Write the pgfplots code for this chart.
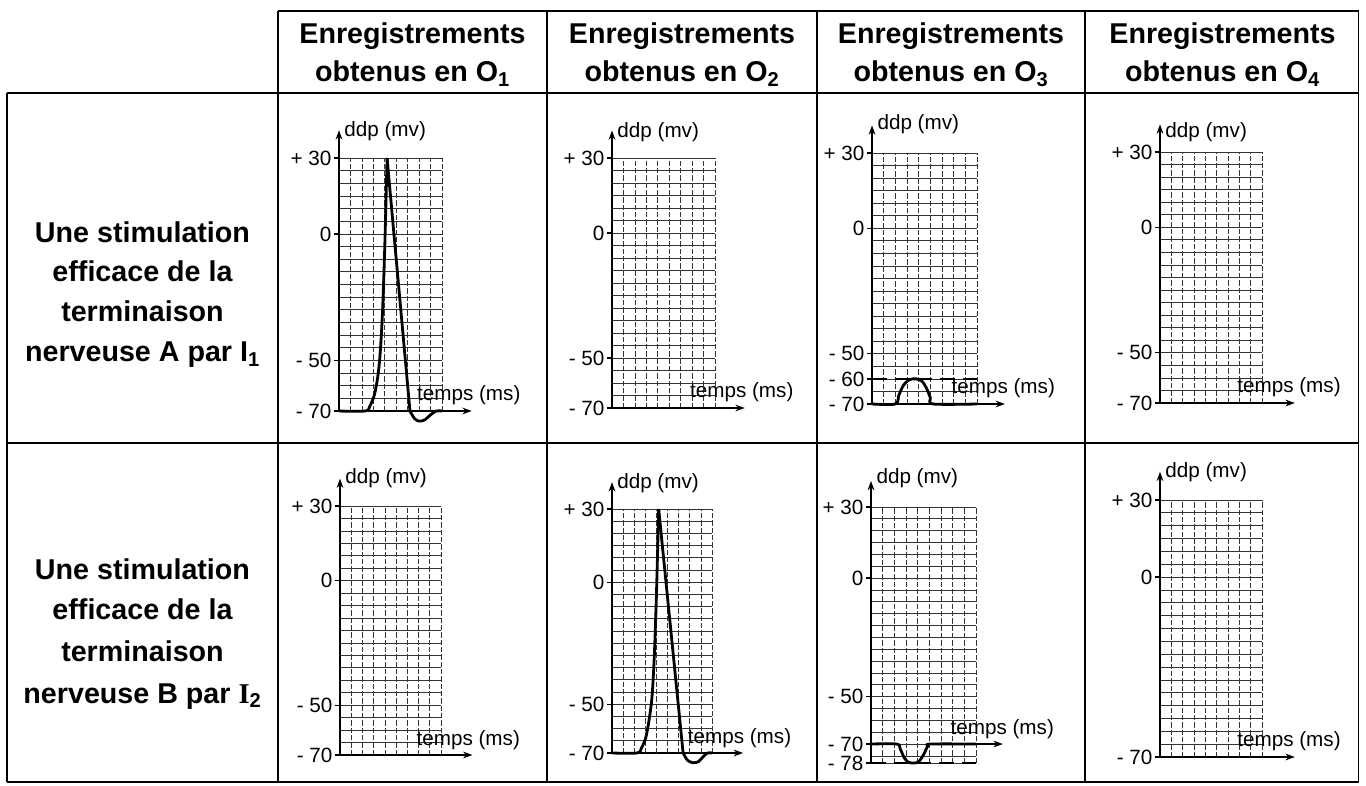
\documentclass[border=0pt]{standalone}
\usepackage{pgfplots}
\pgfplotsset{compat=1.18}
\usepackage{fontspec}
\setmainfont{Liberation Sans}
\newfontfamily\serifI{Liberation Serif}
\usetikzlibrary{arrows.meta}
\newcommand\tickfont{\fontsize{15.5}{18}\selectfont}
\newcommand\bigfont{\bfseries\fontsize{21.5}{25}\selectfont}
\pgfplotsset{
  osc/.style={
    scale only axis, clip=false,
    xmin=0, xmax=9, ymax=30,
    axis lines=left, axis line style={-, line width=1.4pt},
    xtick=\empty,
    extra x ticks={1,2,3,4,5,6,7,8,9},
    extra x tick labels={},
    extra x tick style={grid=major, major tick length=0pt,
      major grid style={line width=0.55pt, black!80, dash pattern=on 4pt off 1.5pt}},
    minor ytick={-75,-70,...,30},
    yminorgrids, ymajorgrids,
    minor grid style={line width=0.55pt, black!80},
    major grid style={line width=0.55pt, black!80},
    tick align=outside, major tick length=4pt, minor tick length=0pt,
    tick style={line width=1pt, black},
    yticklabel style={font=\tickfont, inner sep=1.5pt},
    ytick={-70,-50,0,30},
    yticklabels={\mbox{- 70},\mbox{- 50},\mbox{0},\mbox{+ 30}},
  },
  curve/.style={line width=2.1pt, black, no markers},
}
\newcommand\arrows[3]{%
  \draw[line width=1.4pt,-{Stealth[length=7pt,width=5pt]}] (axis cs:0,30) -- (axis cs:0,41);
  \draw[line width=1.4pt,-{Stealth[length=7pt,width=5pt]}] (axis cs:#2,-70) -- (axis cs:#1,-70);
  \node[anchor=west,inner sep=0pt,font=\tickfont] at (axis cs:0.45,#3) {ddp (mv)};
  \node[anchor=base west,inner sep=0pt,font=\tickfont] at (axis cs:6.8,-66) {temps (ms)};
}
\begin{document}
\begin{tikzpicture}
\useasboundingbox (0,0) rectangle (1024.5pt,588.75pt);
\fill[white] (0,0) rectangle (1024.5pt,588.75pt);
% table
\begin{scope}[line width=1.2pt]
\draw (208.5pt,580.5pt) -- (1019pt,580.5pt);
\draw (5.25pt,519pt) -- (1019pt,519pt);
\draw (5.25pt,256.5pt) -- (1019pt,256.5pt);
\draw (5.25pt,2.25pt) -- (1019pt,2.25pt);
\draw (5.25pt,519pt) -- (5.25pt,2.25pt);
\foreach \xx in {208.5,410.25,612.75,813.75,1019} {\draw (\xx pt,580.5pt) -- (\xx pt,2.25pt);}
\end{scope}
% headers
\foreach \xx/\n in {309.375/1,511.5/2,713.25/3,916.875/4} {
  \node[anchor=base,inner sep=0pt,font=\bigfont] at (\xx pt,555.75pt) {Enregistrements};
  \node[anchor=base,inner sep=0pt,font=\bigfont] at (\xx pt,527.25pt) {obtenus en O\textsubscript{\n}};
}
% row labels
\node[anchor=base,inner sep=0pt,font=\bigfont] at (106.875pt,406.5pt) {Une stimulation};
\node[anchor=base,inner sep=0pt,font=\bigfont] at (106.875pt,377.25pt) {efficace de la};
\node[anchor=base,inner sep=0pt,font=\bigfont] at (106.875pt,347.25pt) {terminaison};
\node[anchor=base,inner sep=0pt,font=\bigfont] at (106.875pt,317.25pt) {nerveuse A par I\textsubscript{1}};
\node[anchor=base,inner sep=0pt,font=\bigfont] at (106.875pt,153.75pt) {Une stimulation};
\node[anchor=base,inner sep=0pt,font=\bigfont] at (106.875pt,123.75pt) {efficace de la};
\node[anchor=base,inner sep=0pt,font=\bigfont] at (106.875pt,92.25pt) {terminaison};
\node[anchor=base,inner sep=0pt,font=\bigfont] at (106.875pt,61.5pt) {nerveuse B par {\serifI I}\textsubscript{2}};
% A: row 1, O1
\begin{axis}[osc, at={(254.25pt,280.5pt)}, anchor=south west, width=77.25pt, height=189.75pt, ymin=-70]
\addplot[curve, smooth] coordinates {(0,-70) (2.3,-70) (2.7,-68) (3.1,-63.5) (3.4,-56) (3.6,-47) (3.8,-31) (4.0,-5) (4.2,30)};
\addplot[curve] coordinates {(4.2,30) (6.2,-70)};
\addplot[curve, smooth] coordinates {(6.2,-70) (6.6,-73) (7.0,-74) (7.5,-73.5) (8.0,-71.5) (8.5,-70) (9,-70)};
\arrows{11.6}{8.5}{40.5}
\end{axis}
% B: row 1, O2
\begin{axis}[osc, at={(459pt,282.75pt)}, anchor=south west, width=77.25pt, height=187.5pt, ymin=-70]
\addplot[curve] coordinates {(0,-70) (9,-70)};
\arrows{11.6}{9}{40.5}
\end{axis}
% C: row 1, O3
\begin{axis}[osc, at={(654pt,285.75pt)}, anchor=south west, width=78.75pt, height=188.25pt, ymin=-70,
  ytick={-70,-60,-50,0,30},
  yticklabels={\mbox{- 70},\mbox{- 60},\mbox{- 50},\mbox{0},\mbox{+ 30}}]
\addplot[line width=2pt, black, dash pattern=on 11pt off 6pt] coordinates {(0,-60) (9,-60)};
\addplot[curve, smooth] coordinates {(0,-70) (2.0,-70) (2.3,-66.5) (2.7,-62.5) (3.2,-60.3) (3.8,-60) (4.3,-61) (4.7,-64) (5.0,-67.5) (5.25,-70) (9,-70)};
\arrows{11.4}{9}{41.5}
\node[fill=black, text=white, font=\bfseries\fontsize{15.5}{18}\selectfont, minimum width=75pt, minimum height=22.5pt, inner sep=0pt] at (768.75pt,500.25pt) {tracé a};
\end{axis}
% D: row 1, O4
\begin{axis}[osc, at={(870pt,286.5pt)}, anchor=south west, width=76.5pt, height=188.25pt, ymin=-70]
\addplot[curve] coordinates {(0,-70) (9,-70)};
\arrows{11.9}{9}{38}
\end{axis}
% E: row 2, O1
\begin{axis}[osc, at={(255pt,22.5pt)}, anchor=south west, width=75.75pt, height=186.75pt, ymin=-70]
\addplot[curve] coordinates {(0,-70) (9,-70)};
\arrows{11.8}{9}{41}
\end{axis}
% F: row 2, O2
\begin{axis}[osc, at={(459pt,24pt)}, anchor=south west, width=75pt, height=183pt, ymin=-70]
\addplot[curve, smooth] coordinates {(0,-70) (2.25,-70) (2.65,-68) (3.05,-63.5) (3.35,-56) (3.6,-47) (3.8,-31) (4.0,-5) (4.2,30)};
\addplot[curve] coordinates {(4.2,30) (6.4,-70)};
\addplot[curve, smooth] coordinates {(6.4,-70) (6.8,-73) (7.3,-74) (7.8,-73.5) (8.2,-71.5) (8.6,-70) (9,-70)};
\arrows{11.8}{8.6}{40.5}
\end{axis}
% G: row 2, O3
\begin{axis}[osc, at={(653.25pt,16.5pt)}, anchor=south west, width=78.75pt, height=192pt, ymin=-78,
  x axis line style={draw=none},
  ytick={-78,-70,-50,0,30},
  yticklabels={\mbox{- 78},\mbox{- 70},\mbox{- 50},\mbox{0},\mbox{+ 30}}]
\addplot[line width=2pt, black, dash pattern=on 11pt off 6pt] coordinates {(0,-78) (9,-78)};
\addplot[curve, smooth] coordinates {(0,-70) (2.2,-70) (2.5,-72) (2.85,-75.8) (3.2,-77.7) (3.7,-78) (4.1,-77.4) (4.5,-74.5) (4.85,-71) (5.1,-70) (9,-70)};
\arrows{11.3}{9}{42}
\node[fill=black, text=white, font=\bfseries\fontsize{15.5}{18}\selectfont, minimum width=73.5pt, minimum height=22.5pt, inner sep=0pt] at (771.75pt,240pt) {tracé b};
\end{axis}
% H: row 2, O4
\begin{axis}[osc, at={(870pt,21pt)}, anchor=south west, width=76.5pt, height=192.75pt, ymin=-70,
  ytick={-70,0,30},
  yticklabels={\mbox{- 70},\mbox{0},\mbox{+ 30}}]
\addplot[curve] coordinates {(0,-70) (9,-70)};
\arrows{11.9}{9}{41}
\end{axis}
\end{tikzpicture}
\end{document}
